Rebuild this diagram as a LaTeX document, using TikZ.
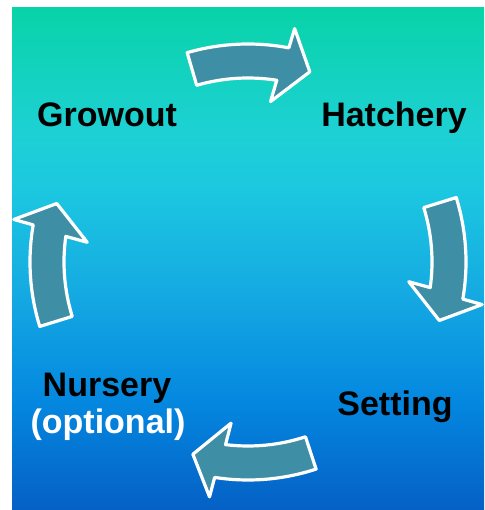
\documentclass[tikz,border=0pt]{standalone}
\usepackage{fontspec}
\setmainfont{Liberation Sans}
\usepackage{xcolor}
\usepackage{tikz}
\usetikzlibrary{positioning}

\definecolor{bgtop}{HTML}{08D3A8}
\definecolor{bgaqua}{HTML}{1DD1D3}
\definecolor{bgcyan}{HTML}{1CC8E0}
\definecolor{bgmid}{HTML}{14A8E2}
\definecolor{bgdeep}{HTML}{0488E0}
\definecolor{bgbottom}{HTML}{0560C6}
\definecolor{arrowfill}{HTML}{3E8FA5}

% vertical water gradient, bottom to top
\pgfdeclareverticalshading{waterbg}{100bp}{
  color(0bp)=(bgbottom); color(25bp)=(bgbottom); color(36bp)=(bgdeep);
  color(46bp)=(bgmid); color(57bp)=(bgcyan); color(63bp)=(bgaqua);
  color(75bp)=(bgtop); color(100bp)=(bgtop)}

\tikzset{
  cyclelbl/.style   = {font=\fontsize{34}{36}\selectfont\bfseries, anchor=base,
                       inner sep=0pt, text=black},
  cyclenote/.style  = {cyclelbl, text=white},
  cyclearrow/.pic   = {
    \draw[fill=arrowfill, draw=white, line width=3.2pt, line join=round]
      (17.2:218) arc[start angle=17.2, end angle=-9.8, radius=218]
      -- (-10.3:238) -- (-17:200) -- (-7:162) -- (-8:184)
      arc[start angle=-8, end angle=17.2, radius=184] -- cycle;
  },
}

\begin{document}
\begin{tikzpicture}[x=1pt, y=1pt]
  \useasboundingbox (0,0) rectangle (484,510);
  \shade[shading=waterbg] (12,0) rectangle (484,502);

  \coordinate (hub) at (248,248);

  \node[cyclelbl] (growout)  at (107,383) {Growout};
  \node[cyclelbl] (hatchery) at (394,383) {Hatchery};
  \node[cyclelbl] (setting)  at (395,94)  {Setting};
  \node[cyclelbl] (nursery)  at (107,113) {Nursery};
  \node[cyclenote, anchor=base] (optional) at ([xshift=1pt, yshift=-37pt]nursery.base) {(optional)};

  % block arrows round the cycle, clockwise
  \pic[rotate=89]  at (hub) {cyclearrow};
  \pic[rotate=0]   at (hub) {cyclearrow};
  \pic[rotate=-89] at (hub) {cyclearrow};
  \pic[rotate=180] at (hub) {cyclearrow};
\end{tikzpicture}
\end{document}
